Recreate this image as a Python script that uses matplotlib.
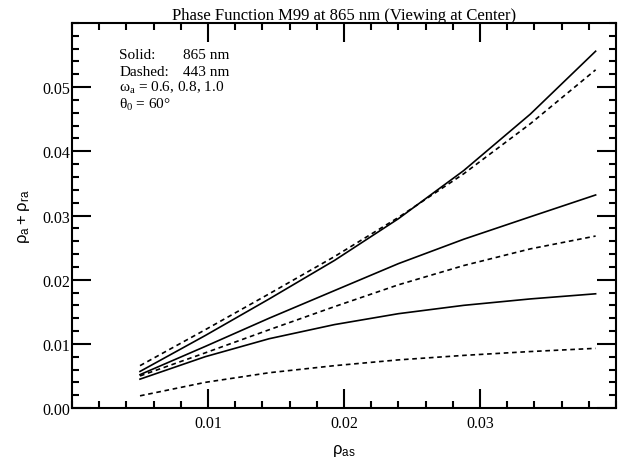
import matplotlib
matplotlib.use('Agg')
import matplotlib.pyplot as plt
from matplotlib.ticker import MultipleLocator

# rho_as values (x) shared by all curves
rho_as = [0.0050, 0.0098, 0.0145, 0.0193, 0.0240, 0.0288, 0.0337, 0.0385]

# solid: 865 nm, dashed: 443 nm; omega_a = 1.0, 0.8, 0.6
solid_10 = [0.0057, 0.0113, 0.0170, 0.0230, 0.0295, 0.0370, 0.0458, 0.0556]
solid_08 = [0.0052, 0.0096, 0.0140, 0.0183, 0.0225, 0.0263, 0.0298, 0.0332]
solid_06 = [0.0045, 0.0080, 0.0108, 0.0130, 0.0147, 0.0160, 0.0170, 0.0178]
dashed_10 = [0.0066, 0.0122, 0.0178, 0.0236, 0.0297, 0.0365, 0.0443, 0.0527]
dashed_08 = [0.0050, 0.0086, 0.0122, 0.0158, 0.0192, 0.0222, 0.0248, 0.0268]
dashed_06 = [0.0019, 0.0040, 0.0055, 0.0066, 0.0075, 0.0082, 0.0088, 0.0093]

serif = 'Liberation Serif'
sans = 'Liberation Sans'

fig = plt.figure(figsize=(6.24, 4.64), dpi=100)
ax = fig.add_axes([0.1154, 0.1185, 0.8718, 0.8298])

for ys in (solid_10, solid_08, solid_06):
    ax.plot(rho_as, ys, color='black', lw=1.2, ls='-')
for ys in (dashed_10, dashed_08, dashed_06):
    ax.plot(rho_as, ys, color='black', lw=1.2, ls=(0, (2.8, 2.2)))

ax.set_xlim(0, 0.04)
ax.set_ylim(0, 0.06)
ax.set_xticks([0.01, 0.02, 0.03])
ax.set_xticklabels(['0.01', '0.02', '0.03'])
ax.set_yticks([0.0, 0.01, 0.02, 0.03, 0.04, 0.05])
ax.set_yticklabels(['0.00', '0.01', '0.02', '0.03', '0.04', '0.05'])
ax.xaxis.set_minor_locator(MultipleLocator(0.002))
ax.yaxis.set_minor_locator(MultipleLocator(0.002))
ax.tick_params(which='both', direction='in', top=True, right=True, width=1.5)
ax.tick_params(which='major', length=14)
ax.tick_params(which='minor', length=5.2)
ax.tick_params(axis='x', pad=5)
ax.tick_params(axis='y', pad=1)
for lab in ax.get_xticklabels() + ax.get_yticklabels():
    lab.set_fontfamily(serif)
    lab.set_fontsize(11.5)
for sp in ax.spines.values():
    sp.set_linewidth(1.5)

ax.set_title('Phase Function M99 at 865 nm (Viewing at Center)',
             fontfamily=serif, fontsize=12, pad=3)
ax.set_xlabel(r'$\mathregular{\rho_{as}}$', fontfamily=sans, fontsize=12, labelpad=8)
ax.set_ylabel(r'$\mathregular{\rho_a + \rho_{ra}}$', fontfamily=sans, fontsize=12, labelpad=8)

tx = dict(transform=ax.transAxes, fontfamily=serif, fontsize=11)
ax.text(0.087, 0.908, 'Solid:', **tx)
ax.text(0.29, 0.908, '865 nm', ha='right', **tx)
ax.text(0.087, 0.866, 'Dashed:', **tx)
ax.text(0.29, 0.866, '443 nm', ha='right', **tx)
ax.text(0.087, 0.823, r'$\mathregular{\omega_a}$ = 0.6, 0.8, 1.0', **tx)
ax.text(0.087, 0.780, r'$\mathregular{\theta_0}$ = 60°', **tx)

fig.savefig('out.png', dpi=100)
